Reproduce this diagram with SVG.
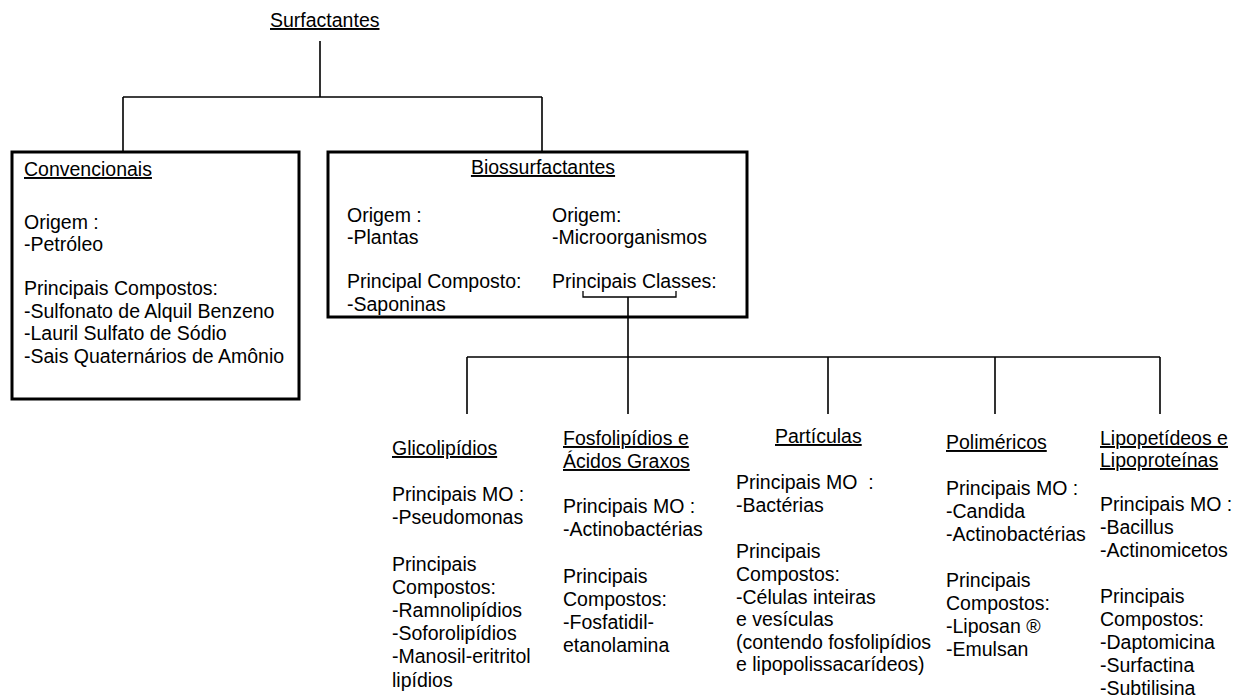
<svg xmlns="http://www.w3.org/2000/svg" width="1239" height="699" viewBox="0 0 1239 699">
<style>
text{font-family:"Liberation Sans",Arial,sans-serif;font-size:19.5px;fill:#000;white-space:pre}
.u{text-decoration:underline}
.box{fill:none;stroke:#000;stroke-width:3}
.c{fill:none;stroke:#000;stroke-width:1.6}
.br{fill:none;stroke:#000;stroke-width:1.3}
</style>
<rect width="1239" height="699" fill="#fff"/>
<g id="surfactantes">
<text x="270" y="27" class="u">Surfactantes</text>
</g>
<g id="convencionais">
<rect class="box" x="12" y="152" width="287" height="247"/>
<text x="24" y="176" class="u">Convencionais</text>
<text x="24" y="229">Origem :</text>
<text x="24" y="251">-Petróleo</text>
<text x="24" y="295">Principais Compostos:</text>
<text x="24" y="318">-Sulfonato de Alquil Benzeno</text>
<text x="24" y="340">-Lauril Sulfato de Sódio</text>
<text x="24" y="363">-Sais Quaternários de Amônio</text>
</g>
<g id="biossurfactantes">
<rect class="box" x="328" y="152" width="419" height="165"/>
<text x="543" y="174" class="u" text-anchor="middle">Biossurfactantes</text>
<text x="347" y="222">Origem :</text>
<text x="347" y="244">-Plantas</text>
<text x="347" y="288">Principal Composto:</text>
<text x="347" y="311">-Saponinas</text>
<text x="552" y="222">Origem:</text>
<text x="552" y="244">-Microorganismos</text>
<text x="552" y="288">Principais Classes:</text>
</g>
<g id="glicolipidios">
<text x="392" y="455" class="u">Glicolipídios</text>
<text x="392" y="501">Principais MO :</text>
<text x="392" y="524">-Pseudomonas</text>
<text x="392" y="571">Principais</text>
<text x="392" y="594">Compostos:</text>
<text x="392" y="617">-Ramnolipídios</text>
<text x="392" y="640">-Soforolipídios</text>
<text x="392" y="663">-Manosil-eritritol</text>
<text x="392" y="687">lipídios</text>
</g>
<g id="fosfolipidios">
<text x="563" y="445" class="u">Fosfolipídios e</text>
<text x="563" y="468" class="u">Ácidos Graxos</text>
<text x="563" y="513">Principais MO :</text>
<text x="563" y="536">-Actinobactérias</text>
<text x="563" y="583">Principais</text>
<text x="563" y="606">Compostos:</text>
<text x="563" y="629">-Fosfatidil-</text>
<text x="563" y="652">etanolamina</text>
</g>
<g id="particulas">
<text x="775" y="443" class="u">Partículas</text>
<text x="736" y="489">Principais MO  :</text>
<text x="736" y="512">-Bactérias</text>
<text x="736" y="558">Principais</text>
<text x="736" y="581">Compostos:</text>
<text x="736" y="604">-Células inteiras</text>
<text x="736" y="626">e vesículas</text>
<text x="736" y="649">(contendo fosfolipídios</text>
<text x="736" y="671">e lipopolissacarídeos)</text>
</g>
<g id="polimericos">
<text x="946" y="449" class="u">Poliméricos</text>
<text x="946" y="495">Principais MO :</text>
<text x="946" y="518">-Candida</text>
<text x="946" y="541">-Actinobactérias</text>
<text x="946" y="587">Principais</text>
<text x="946" y="610">Compostos:</text>
<text x="946" y="633">-Liposan ®</text>
<text x="946" y="656">-Emulsan</text>
</g>
<g id="lipopeptideos">
<text x="1100" y="445" class="u">Lipopetídeos e</text>
<text x="1100" y="467" class="u">Lipoproteínas</text>
<text x="1100" y="511">Principais MO :</text>
<text x="1100" y="534">-Bacillus</text>
<text x="1100" y="557">-Actinomicetos</text>
<text x="1100" y="603">Principais</text>
<text x="1100" y="626">Compostos:</text>
<text x="1100" y="649">-Daptomicina</text>
<text x="1100" y="672">-Surfactina</text>
<text x="1100" y="695">-Subtilisina</text>
</g>
<g id="connectors">
<path class="c" d="M320 41V97M123 97H542M123 97V152M542 97V152"/>
<path class="br" d="M583 291V297H676V291"/>
<path class="c" d="M628 297V414M467 357H1160M467 357V414M828 357V414M995 357V414M1160 357V414"/>
</g>
</svg>
